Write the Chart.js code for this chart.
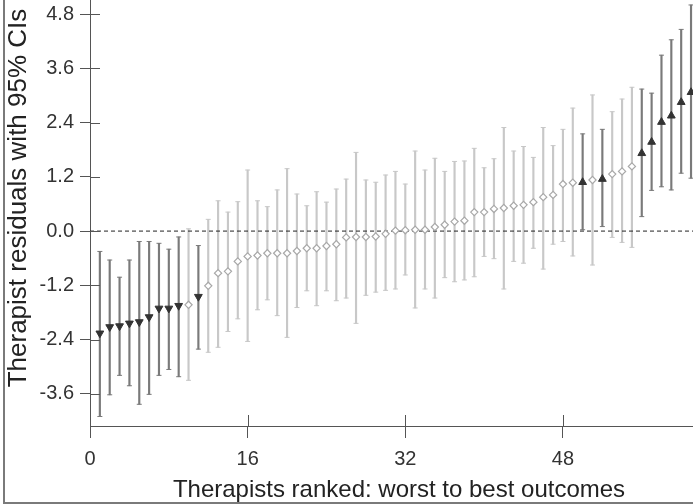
<!DOCTYPE html>
<html>
<head>
<meta charset="utf-8">
<script src="https://cdn.jsdelivr.net/npm/chart.js@4"></script>
<style>
html, body { margin: 0; padding: 0; background: #fff; }
</style>
</head>
<body>
<canvas id="myChart" width="693" height="504"></canvas>
<script>
// therapist residual estimates, ranked worst to best
var est = [-2.26, -2.12, -2.10, -2.04, -2.01, -1.90, -1.71, -1.71, -1.65, -1.63,
    -1.45, -1.21, -0.93, -0.89, -0.67, -0.56, -0.54, -0.49, -0.49, -0.49,
    -0.44, -0.38, -0.38, -0.33, -0.29, -0.14, -0.13, -0.13, -0.12, -0.06,
    0.01, 0.02, 0.03, 0.03, 0.09, 0.14, 0.21, 0.23, 0.42, 0.42,
    0.49, 0.51, 0.56, 0.58, 0.64, 0.75, 0.80, 1.04, 1.07, 1.08,
    1.13, 1.15, 1.26, 1.32, 1.43, 1.72, 1.97, 2.41, 2.55, 2.85, 3.07];
// lower / upper 95% CI
var lower = [-4.10, -3.62, -3.19, -3.42, -3.83, -3.61, -3.19, -3.06, -3.22, -3.30,
    -2.61, -2.68, -2.57, -2.22, -1.94, -2.44, -1.74, -1.52, -1.87, -2.35,
    -1.69, -1.32, -1.65, -1.32, -1.54, -1.48, -2.04, -1.42, -1.35, -1.31,
    -1.28, -0.97, -1.70, -1.28, -1.48, -1.03, -1.12, -1.08, -1.01, -0.56,
    -0.61, -1.28, -0.67, -0.71, -0.38, -0.84, -0.29, -0.23, -0.55, 0.03,
    -0.75, 0.10, -0.14, -0.25, -0.36, 0.32, 0.90, 0.98, 0.91, 1.28, 1.17];
var upper = [-0.45, -0.64, -1.02, -0.64, -0.23, -0.23, -0.27, -0.40, -0.13, 0.05,
    -0.32, 0.26, 0.67, 0.42, 0.65, 1.35, 0.67, 0.54, 0.91, 1.38,
    0.82, 0.56, 0.87, 0.64, 0.93, 1.15, 1.74, 1.13, 1.08, 1.24,
    1.32, 1.04, 1.77, 1.35, 1.61, 1.32, 1.54, 1.55, 1.83, 1.40,
    1.60, 2.29, 1.77, 1.87, 1.63, 2.29, 1.89, 2.25, 2.72, 2.15,
    3.01, 2.25, 2.64, 2.92, 3.18, 3.14, 3.05, 3.89, 4.23, 4.46, 5.00];
// d = worse than average, u = better, n = not significant
var signif = ['d', 'd', 'd', 'd', 'd', 'd', 'd', 'd', 'd', 'n',
    'd', 'n', 'n', 'n', 'n', 'n', 'n', 'n', 'n', 'n',
    'n', 'n', 'n', 'n', 'n', 'n', 'n', 'n', 'n', 'n',
    'n', 'n', 'n', 'n', 'n', 'n', 'n', 'n', 'n', 'n',
    'n', 'n', 'n', 'n', 'n', 'n', 'n', 'n', 'n', 'u',
    'n', 'u', 'n', 'n', 'n', 'u', 'u', 'u', 'u', 'u', 'u'];

var xTicks = [0, 16, 32, 48];
var yTicks = [-3.6, -2.4, -1.2, 0, 1.2, 2.4, 3.6, 4.8];
var xMin = 0, xMax = 61.2;
var yMin = -4.31, yMax = 5.11;
var xTitle = 'Therapists ranked: worst to best outcomes';
var yTitle = 'Therapist residuals with 95% CIs';

var FONT = '"Liberation Sans", Arial, sans-serif';
var darkBar = '#7a7a7a', lightBar = '#c8c8c8';

function barColor(i) {
    return signif[i] == 'n' ? lightBar : darkBar;
}

var bars = [], caps = [], capColors = [];
var down = [], up = [], ns = [];
for (var i = 0; i < est.length; ++i) {
    bars.push({ x: i + 1, y: [lower[i], upper[i]] });
    caps.push({ x: i + 1, y: lower[i] });
    caps.push({ x: i + 1, y: upper[i] });
    capColors.push(barColor(i), barColor(i));
    var p = { x: i + 1, y: est[i] };
    if (signif[i] == 'd') down.push(p);
    else if (signif[i] == 'u') up.push(p);
    else ns.push(p);
}

// no extra room around the plot: it runs to the top and right edges
function noPadding(scale) {
    scale.paddingTop = 0;
    scale.paddingBottom = 0;
    scale.paddingLeft = 0;
    scale.paddingRight = 0;
}

// axis ticks crossing the axis line, frame, and axis titles
var decor = {
    id: 'decor',
    afterDraw: function(chart) {
        var ctx = chart.ctx;
        var area = chart.chartArea;
        var xs = chart.scales.x, ys = chart.scales.y;
        ctx.save();
        ctx.strokeStyle = '#555';
        ctx.lineWidth = 1;
        ctx.beginPath();
        yTicks.forEach(function(v) {
            var py = Math.round(ys.getPixelForValue(v)) + 0.5;
            ctx.moveTo(area.left, py);
            ctx.lineTo(area.left + 10, py);
        });
        xTicks.forEach(function(v) {
            var px = Math.round(xs.getPixelForValue(v)) + 0.5;
            ctx.moveTo(px, area.bottom);
            ctx.lineTo(px, area.bottom - 11);
        });
        ctx.stroke();

        // frame of the figure
        ctx.strokeStyle = '#7a7a7a';
        ctx.lineWidth = 2;
        ctx.beginPath();
        ctx.moveTo(4, 0);
        ctx.lineTo(4, 503);
        ctx.lineTo(693, 503);
        ctx.stroke();

        ctx.fillStyle = '#222';
        ctx.textAlign = 'center';
        ctx.textBaseline = 'alphabetic';
        ctx.font = '24px ' + FONT;
        ctx.fillText(xTitle, 399, 497);

        ctx.translate(26, 198);
        ctx.rotate(-Math.PI / 2);
        ctx.font = '26px ' + FONT;
        ctx.fillText(yTitle, 0, 0);
        ctx.restore();
    }
};

var ctx = document.getElementById('myChart');
var myChart = new Chart(ctx, {
    type: 'scatter',
    data: {
        datasets: [
            {
                type: 'bar',
                data: bars,
                backgroundColor: est.map(function(v, i) { return barColor(i); }),
                barThickness: 1.5,
                borderWidth: 0,
                order: 4
            },
            {
                data: caps,
                pointStyle: 'line',
                pointRadius: 2.5,
                borderWidth: 1,
                pointBorderColor: capColors,
                order: 3
            },
            {
                type: 'line',
                data: [{ x: xMin, y: 0 }, { x: xMax, y: 0 }],
                borderColor: '#222',
                borderWidth: 1,
                borderDash: [4, 3],
                pointRadius: 0,
                order: 2
            },
            {
                data: ns,
                pointStyle: 'rectRot',
                pointRadius: 3.6,
                backgroundColor: '#fff',
                borderColor: '#a8a8a8',
                borderWidth: 1.2,
                order: 1
            },
            {
                data: down,
                pointStyle: 'triangle',
                rotation: 180,
                pointRadius: 4.5,
                backgroundColor: '#333',
                borderColor: '#333',
                borderWidth: 1,
                order: 0
            },
            {
                data: up,
                pointStyle: 'triangle',
                pointRadius: 4.5,
                backgroundColor: '#333',
                borderColor: '#333',
                borderWidth: 1,
                order: 0
            }
        ]
    },
    options: {
        responsive: false,
        animation: false,
        layout: { padding: 0, autoPadding: false },
        plugins: {
            legend: { display: false },
            tooltip: { enabled: false }
        },
        scales: {
            x: {
                type: 'linear',
                min: xMin,
                max: xMax,
                offset: false,
                afterFit: function(scale) { scale.height = 78; noPadding(scale); },
                afterBuildTicks: function(scale) {
                    scale.ticks = xTicks.map(function(v) { return { value: v }; });
                },
                grid: { drawOnChartArea: false, offset: false, tickLength: 12, color: '#555' },
                border: { color: '#555', width: 1 },
                ticks: {
                    color: '#333',
                    font: { family: FONT, size: 20 },
                    padding: 9,
                    maxRotation: 0,
                    callback: function(v) { return v; }
                }
            },
            y: {
                min: yMin,
                max: yMax,
                afterFit: function(scale) { scale.width = 90; noPadding(scale); },
                afterBuildTicks: function(scale) {
                    scale.ticks = yTicks.map(function(v) { return { value: v }; });
                },
                grid: { drawOnChartArea: false, offset: false, tickLength: 10, color: '#555' },
                border: { color: '#555', width: 1 },
                ticks: {
                    color: '#333',
                    font: { family: FONT, size: 20 },
                    padding: 6,
                    callback: function(v) { return v.toFixed(1); }
                }
            }
        }
    },
    plugins: [decor]
});
</script>
</body>
</html>
